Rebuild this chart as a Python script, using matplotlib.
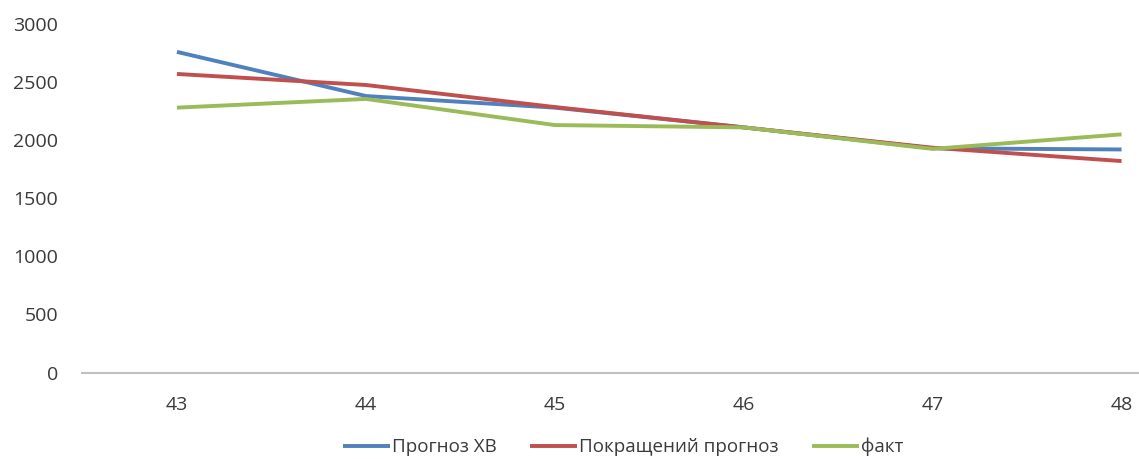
import matplotlib
matplotlib.use("Agg")
import matplotlib.pyplot as plt

categories = ["43", "44", "45", "46", "47", "48"]
prognoz_hv = [2760, 2380, 2280, 2110, 1930, 1920]
pokrashch = [2570, 2475, 2285, 2110, 1935, 1820]
fakt = [2280, 2355, 2130, 2110, 1925, 2050]
series_names = ["Прогноз ХВ", "Покращений прогноз", "факт"]
yticks = [0, 500, 1000, 1500, 2000, 2500, 3000]

plt.rcParams['font.family'] = ['Open Sans', 'DejaVu Sans']
text_color = '#3a3a3a'

fig = plt.figure(figsize=(11.39, 4.59), dpi=100)
ax = fig.add_axes([82.5/1139, 1-372.5/459, (1216-82.5)/1139, (372.5-24)/459])

x = list(range(len(categories)))
colors = ['#4F81BD', '#C0504D', '#9BBB59']
for vals, name, c in zip([prognoz_hv, pokrashch, fakt], series_names, colors):
    ax.plot(x, vals, color=c, lw=2.8, label=name, solid_capstyle='butt')

ax.set_xlim(-0.5, len(categories) - 0.5)
ax.set_ylim(0, 3000)
ax.set_yticks(yticks)
ax.set_yticklabels([str(v) for v in yticks])
ax.set_xticks(x)
ax.set_xticklabels(categories)
ax.tick_params(axis='y', length=0, pad=17.5, labelsize=14, colors=text_color)
ax.tick_params(axis='x', length=0, pad=17, labelsize=14, colors=text_color)
for s in ['top', 'right', 'left']:
    ax.spines[s].set_visible(False)
ax.spines['bottom'].set_color('#BFBFBF')
ax.spines['bottom'].set_linewidth(1.5)

fig.legend(loc='center', bbox_to_anchor=(623/1139, 1-447/459), ncol=3,
           frameon=False, fontsize=13.5, handlelength=2.5, handletextpad=0.1,
           columnspacing=1.8, labelcolor=text_color)

fig.savefig("out.png", dpi=100)
